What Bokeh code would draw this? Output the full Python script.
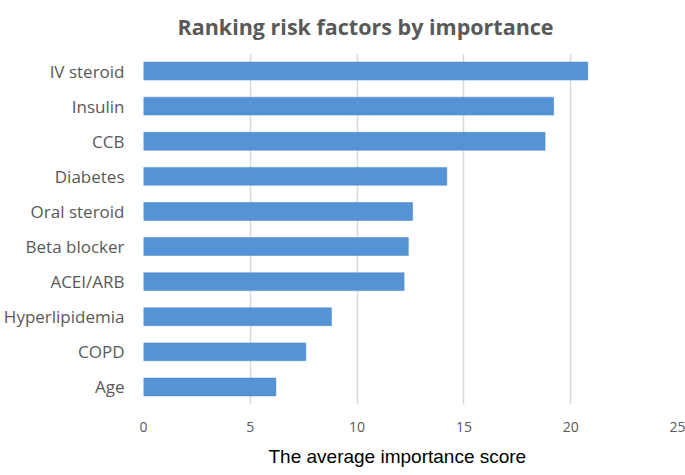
from bokeh.plotting import figure
from bokeh.models import Title
from bokeh.embed import file_html
from bokeh.resources import INLINE

categories = ["IV steroid", "Insulin", "CCB", "Diabetes", "Oral steroid",
              "Beta blocker", "ACEI/ARB", "Hyperlipidemia", "COPD", "Age"]
scores = [20.8, 19.2, 18.8, 14.2, 12.6, 12.4, 12.2, 8.8, 7.6, 6.2]
x_ticks = [0, 5, 10, 15, 20, 25]

title_text = "Ranking risk factors by importance"
x_label = "The average importance score"

p = figure(width=685, height=475, output_backend="svg",
           toolbar_location=None,
           y_range=list(reversed(categories)), x_range=(0, 25),
           min_border_left=142, min_border_right=8, min_border_top=52,
           min_border_bottom=71)

p.hbar(y=categories, right=scores, left=0, height=0.51,
       fill_color="#5593d4", line_color="#4a86c6", line_width=0.5)

t = Title(text=title_text, align="left", offset=34, vertical_align="top",
          text_font="Open Sans", text_font_size="21.5px", text_font_style="bold",
          text_color="#595959", standoff=22)
p.add_layout(t, "above")

p.outline_line_color = None
p.background_fill_color = "white"
p.border_fill_color = "white"

p.ygrid.grid_line_color = None
p.xgrid.grid_line_color = "#d9d9d9"
p.xgrid.grid_line_width = 1.5
p.xaxis.ticker = x_ticks

for ax in (p.xaxis, p.yaxis):
    ax.axis_line_color = None
    ax.major_tick_line_color = None
    ax.minor_tick_line_color = None
    ax.major_tick_out = 0
    ax.major_tick_in = 0

p.yaxis.major_label_text_font = "Open Sans"
p.yaxis.major_label_text_font_size = "17px"
p.yaxis.major_label_text_color = "#595959"
p.yaxis.major_label_standoff = 19

p.xaxis.major_label_text_font = "Open Sans"
p.xaxis.major_label_text_font_size = "14px"
p.xaxis.major_label_text_color = "#595959"
p.xaxis.major_label_standoff = 17

xt = Title(text=x_label, align="left", offset=125,
           text_font="Liberation Sans", text_font_size="19px",
           text_font_style="normal", text_color="#000000", standoff=18)
p.add_layout(xt, "below")

open("out.html", "w").write(file_html(p, INLINE))
